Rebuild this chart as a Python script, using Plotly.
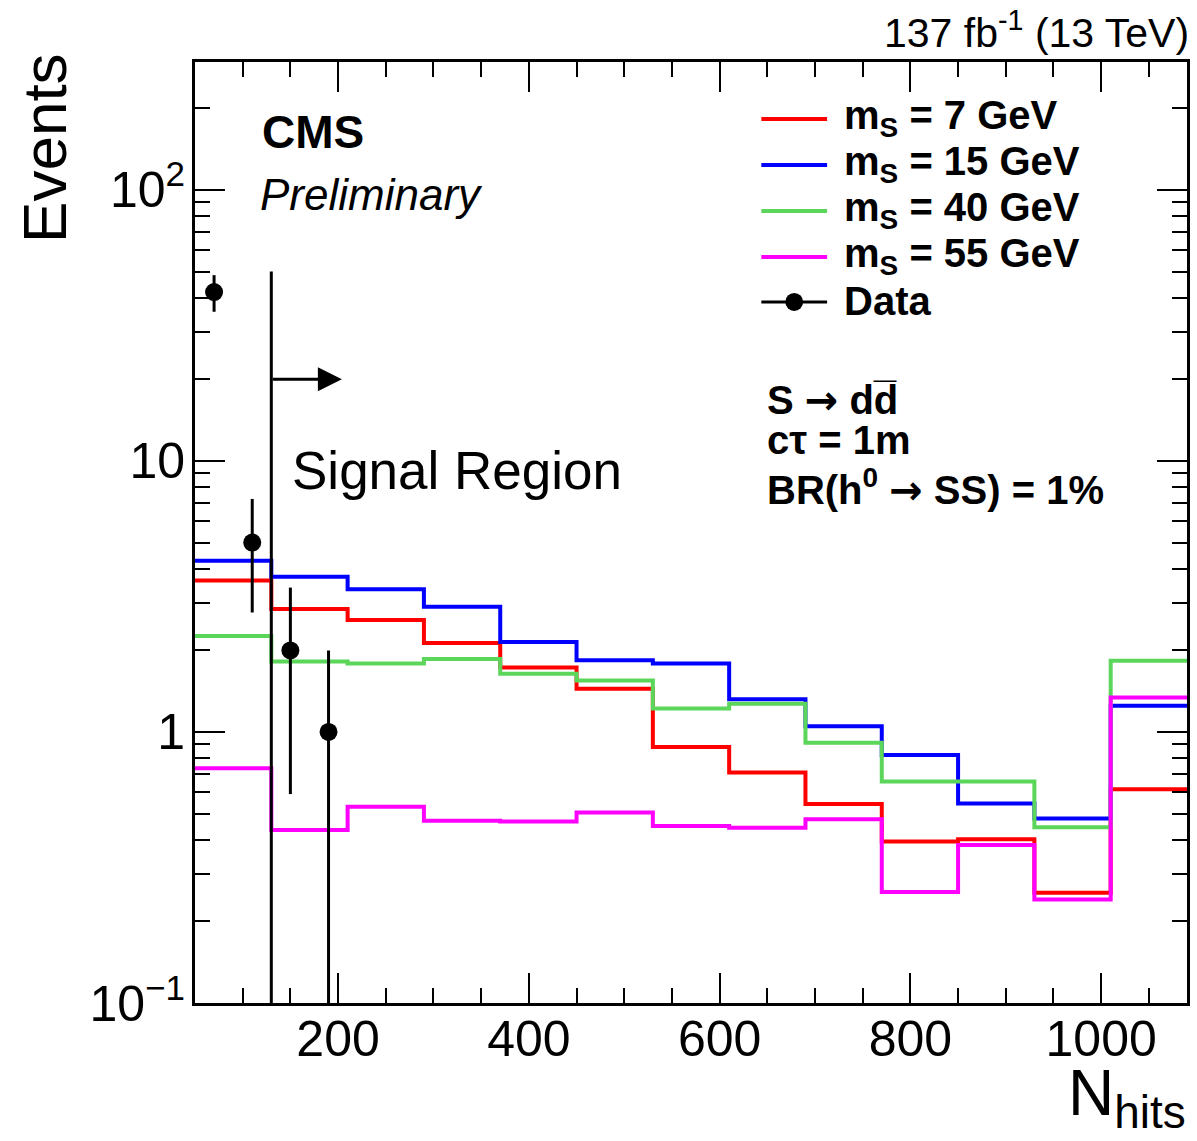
import math
import plotly.graph_objects as go

# ---------------- data ----------------
bin_edges = [50, 130, 210, 290, 370, 450, 530, 610, 690, 770, 850, 930, 1010, 1090]

ms7 = [3.62, 2.84, 2.59, 2.13, 1.73, 1.445, 0.88, 0.708, 0.542, 0.394, 0.402, 0.255, 0.615]
ms15 = [4.28, 3.74, 3.36, 2.90, 2.15, 1.84, 1.79, 1.32, 1.05, 0.822, 0.545, 0.479, 1.25]
ms40 = [2.26, 1.82, 1.79, 1.86, 1.64, 1.55, 1.22, 1.27, 0.913, 0.656, 0.656, 0.445, 1.83]
ms55 = [0.734, 0.435, 0.53, 0.47, 0.467, 0.505, 0.45, 0.443, 0.476, 0.257, 0.383, 0.241, 1.34]

data_x = [70, 110, 150, 190]
data_y = [42, 5, 2, 1]
data_err = [6.48, 2.24, 1.41, 1.0]

sr_edge = 130
sr_line_top = 50
arrow_y = 20
arrow_tip = 204

series_labels = ["m<sub>S</sub> = 7 GeV", "m<sub>S</sub> = 15 GeV",
                 "m<sub>S</sub> = 40 GeV", "m<sub>S</sub> = 55 GeV"]
series_values = [ms7, ms15, ms40, ms55]
series_colors = ["#ff0000", "#0000ff", "#5bd65b", "#ff00ff"]

FONT = "Liberation Sans, Arial, Helvetica, sans-serif"
ARROW = '<span style="font-family:DejaVu Sans">\u2192</span>'

fig = go.Figure()

for name, vals, col in zip(series_labels, series_values, series_colors):
    fig.add_trace(go.Scatter(
        x=bin_edges,
        y=vals + [vals[-1]],
        mode="lines",
        line=dict(shape="hv", color=col, width=4),
        name=name, showlegend=False,
    ))

fig.add_trace(go.Scatter(
    x=data_x, y=data_y, mode="markers",
    marker=dict(color="black", size=18),
    error_y=dict(type="data", array=data_err, visible=True, color="black", thickness=3, width=0),
    name="Data", showlegend=False,
))

# signal region boundary
fig.add_trace(go.Scatter(
    x=[sr_edge, sr_edge], y=[0.1, sr_line_top], mode="lines",
    line=dict(color="black", width=3), showlegend=False, hoverinfo="skip",
))

fig.add_annotation(
    x=arrow_tip, y=math.log10(arrow_y), ax=sr_edge, ay=math.log10(arrow_y),
    xref="x", yref="y", axref="x", ayref="y",
    showarrow=True, arrowhead=2, arrowsize=1.6, arrowwidth=3, arrowcolor="black", text="",
)

minor_y = [v * m for m in (0.1, 1, 10) for v in range(2, 10)] + [200]

fig.update_layout(
    width=1197, height=1141, autosize=False,
    margin=dict(l=195, r=7, t=62, b=138),
    plot_bgcolor="white", paper_bgcolor="white",
    font=dict(family=FONT, color="black"),
    showlegend=False,
    xaxis=dict(
        type="linear", range=[50, 1090],
        tickmode="array", tickvals=[200, 400, 600, 800, 1000],
        ticks="inside", ticklen=30, tickwidth=2, tickcolor="black",
        minor=dict(ticks="inside", ticklen=15, tickwidth=2, tickcolor="black", dtick=50, tick0=0),
        showline=True, linecolor="black", linewidth=3, mirror="allticks",
        showgrid=False, zeroline=False,
        tickfont=dict(family=FONT, size=50, color="black"),
        ticklabelstandoff=-10,
    ),
    yaxis=dict(
        type="log", range=[-1, 2.472],
        tickmode="array", tickvals=[0.1, 1, 10, 100],
        ticktext=["10<sup>\u22121</sup>", "1", "10", "10<sup>2</sup>"],
        ticks="inside", ticklen=30, tickwidth=2, tickcolor="black",
        minor=dict(ticks="inside", ticklen=15, tickwidth=2, tickcolor="black",
                   tickmode="array", tickvals=minor_y),
        showline=True, linecolor="black", linewidth=3, mirror="allticks",
        showgrid=False, zeroline=False,
        tickfont=dict(family=FONT, size=50, color="black"),
        ticklabelstandoff=-3,
    ),
)

# ---------------- legend (drawn ROOT style) ----------------
leg_x0, leg_x1, leg_tx = 0.5709, 0.6372, 0.6523
leg_rows = [0.9394, 0.8905, 0.8417, 0.7928, 0.7450]
for i, (lab, col) in enumerate(zip(series_labels, series_colors)):
    y = leg_rows[i]
    fig.add_shape(type="line", xref="paper", yref="paper", x0=leg_x0, x1=leg_x1, y0=y, y1=y,
                  line=dict(color=col, width=4))
    fig.add_annotation(text="<b>" + lab + "</b>", xref="paper", yref="paper", x=leg_tx, y=y + 0.001,
                       xanchor="left", yanchor="middle", showarrow=False,
                       font=dict(family=FONT, size=40, color="black"))
yd = leg_rows[4]
fig.add_shape(type="line", xref="paper", yref="paper", x0=leg_x0, x1=leg_x1, y0=yd, y1=yd,
              line=dict(color="black", width=3))
xc = (leg_x0 + leg_x1) / 2
fig.add_shape(type="circle", xref="paper", yref="paper",
              x0=xc - 0.0090, x1=xc + 0.0090, y0=yd - 0.0096, y1=yd + 0.0096,
              fillcolor="black", line=dict(color="black", width=0))
fig.add_annotation(text="<b>Data</b>", xref="paper", yref="paper", x=leg_tx, y=yd + 0.001,
                   xanchor="left", yanchor="middle", showarrow=False,
                   font=dict(family=FONT, size=40, color="black"))

ann = [
    dict(text="Events", x=-0.152, y=1.012, xanchor="center", yanchor="top", textangle=-90,
         font=dict(size=62)),
    dict(text='N<sub><span style="font-size:46px">hits</span></sub>', x=1.001, y=-0.055,
         xanchor="right", yanchor="top", font=dict(size=64)),
    dict(text="137 fb<sup>-1</sup> (13 TeV)", x=1.004, y=1.004, xanchor="right", yanchor="bottom",
         font=dict(size=41)),
    dict(text="<b>CMS</b>", x=0.066, y=0.926, xanchor="left", yanchor="middle",
         font=dict(size=46)),
    dict(text="<i>Preliminary</i>", x=0.064, y=0.859, xanchor="left", yanchor="middle",
         font=dict(size=44)),
    dict(text="Signal Region", x=0.096, y=0.566, xanchor="left", yanchor="middle",
         font=dict(size=53)),
    dict(text="<b>S " + ARROW + " dd\u0305</b>", x=0.575, y=0.641, xanchor="left", yanchor="middle",
         font=dict(size=40)),
    dict(text="<b>c\u03c4 = 1m</b>", x=0.575, y=0.598, xanchor="left", yanchor="middle",
         font=dict(size=40)),
    dict(text="<b>BR(h<sup>0</sup> " + ARROW + " SS) = 1%</b>", x=0.575, y=0.548, xanchor="left",
         yanchor="middle", font=dict(size=40)),
]
for a in ann:
    a.update(xref="paper", yref="paper", showarrow=False)
    a["font"].update(family=FONT, color="black")
    fig.add_annotation(**a)

fig.write_html("out.html", post_script="document.body.style.margin='0';",
               config={"displayModeBar": False})
